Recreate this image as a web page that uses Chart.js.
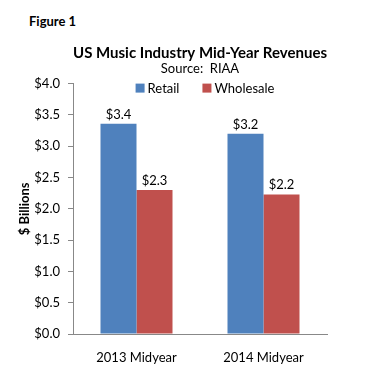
<!DOCTYPE html>
<html><head><meta charset="utf-8">
<script src="https://cdn.jsdelivr.net/npm/chart.js@4/dist/chart.umd.min.js"></script>
<style>
html,body{margin:0;padding:0;background:#fff;}
#wrap{position:relative;width:366px;height:368px;}
#fig{position:absolute;left:29px;top:13px;font:bold 13px Lato, "Open Sans", sans-serif;color:#000;}
canvas{position:absolute;left:0;top:0;}
</style></head>
<body>
<div id="wrap">
<div id="fig">Figure 1</div>
<canvas id="c" width="366" height="368"></canvas>
</div>
<script>
const categories = ["2013 Midyear", "2014 Midyear"];
const retail = [3.36, 3.20];
const wholesale = [2.30, 2.23];
const retailLabels = ["$3.4", "$3.2"];
const wholesaleLabels = ["$2.3", "$2.2"];
const yTicks = [0, 0.5, 1, 1.5, 2, 2.5, 3, 3.5, 4];

const FONT = 'Lato, "Open Sans", sans-serif';

const valueLabels = {
  id: 'valueLabels',
  afterDatasetsDraw(chart) {
    const ctx = chart.ctx;
    ctx.save();
    ctx.font = '13px ' + FONT;
    ctx.fillStyle = '#000';
    ctx.textAlign = 'center';
    ctx.textBaseline = 'alphabetic';
    chart.data.datasets.forEach((ds, i) => {
      chart.getDatasetMeta(i).data.forEach((bar, j) => {
        ctx.fillText(ds.valueLabels[j], bar.x, bar.y - 5);
      });
    });
    ctx.restore();
  }
};

const inAreaLegend = {
  id: 'inAreaLegend',
  afterDraw(chart) {
    const ctx = chart.ctx, a = chart.chartArea;
    ctx.save();
    ctx.font = '13px ' + FONT;
    ctx.textBaseline = 'middle';
    ctx.textAlign = 'left';
    const box = 9, gap = 3, between = 23;
    const items = chart.data.datasets.map(ds => ({ text: ds.label, color: ds.backgroundColor, w: ctx.measureText(ds.label).width }));
    const total = items.reduce((s, it) => s + box + gap + it.w, 0) + between * (items.length - 1);
    let x = (a.left + a.right) / 2 + 5 - total / 2;
    const cy = a.top + 4.5;
    items.forEach(it => {
      ctx.fillStyle = it.color;
      ctx.fillRect(x, cy - box / 2, box, box);
      x += box + gap;
      ctx.fillStyle = '#000';
      ctx.fillText(it.text, x, cy + 1);
      x += it.w + between;
    });
    ctx.restore();
  }
};

new Chart(document.getElementById('c'), {
  type: 'bar',
  data: {
    labels: categories,
    datasets: [
      { label: 'Retail', data: retail, valueLabels: retailLabels, backgroundColor: '#4F81BD' },
      { label: 'Wholesale', data: wholesale, valueLabels: wholesaleLabels, backgroundColor: '#C0504D' }
    ]
  },
  options: {
    responsive: false,
    animation: false,
    events: [],
    layout: { padding: { top: 46, right: 39, bottom: 0, left: 17 } },
    datasets: { bar: { categoryPercentage: 0.567, barPercentage: 1.0 } },
    plugins: {
      title: { display: true, text: 'US Music Industry Mid-Year Revenues', fullSize: false,
               font: { family: FONT, size: 15, weight: 'bold', lineHeight: 1.0 }, color: '#000', padding: { top: 0, bottom: 0 } },
      subtitle: { display: true, text: 'Source:  RIAA', fullSize: false,
               font: { family: FONT, size: 13 }, color: '#000', padding: { top: 0, bottom: 7 } },
      legend: { display: false },
      tooltip: { enabled: false }
    },
    scales: {
      x: {
        grid: { display: false },
        border: { color: '#888', width: 1 },
        ticks: { font: { family: FONT, size: 13 }, color: '#000', padding: 8 },
        afterFit(scale) { scale.height = 34; }
      },
      y: {
        min: 0, max: 4,
        afterBuildTicks(scale) { scale.ticks = yTicks.map(v => ({ value: v })); },
        grid: { drawOnChartArea: false, drawTicks: true, tickLength: 5, color: '#888' },
        border: { color: '#888', width: 1 },
        ticks: { font: { family: FONT, size: 13 }, color: '#000', padding: 8,
                 callback: v => '$' + Number(v).toFixed(1) },
        title: { display: true, text: '$ Billions', font: { family: FONT, size: 13, weight: 'bold' }, color: '#000', padding: { top: 0, bottom: 0 } },
        afterFit(scale) { scale.width = 56; }
      }
    }
  },
  plugins: [valueLabels, inAreaLegend]
});
</script>
</body></html>
